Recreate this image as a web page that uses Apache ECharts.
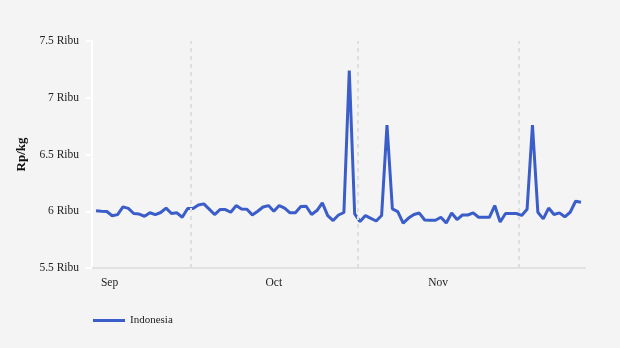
<!DOCTYPE html>
<html>
<head>
<meta charset="utf-8">
<script src="https://cdn.jsdelivr.net/npm/echarts@6/dist/echarts.min.js"></script>
<style>
  html, body { margin: 0; padding: 0; background: #f4f4f4; }
  #chart { width: 620px; height: 348px; }
</style>
</head>
<body>
<div id="chart"></div>
<script>
// Daily price series (Rp/kg), one observation per day starting 13 Sep
const seriesName = 'Indonesia';
const firstDay = [2024, 8, 13];
const prices = [
  6005, 6000, 5998, 5960, 5970, 6039, 6025, 5980, 5975, 5956,
  5987, 5970, 5989, 6028, 5980, 5986, 5947, 6024, 6025, 6055,
  6065, 6019, 5971, 6015, 6015, 5991, 6050, 6019, 6017, 5968,
  6000, 6037, 6050, 6000, 6050, 6028, 5986, 5986, 6041, 6044,
  5971, 6006, 6074, 5962, 5918, 5967, 5989, 7240, 5977, 5909,
  5962, 5938, 5914, 5962, 6760, 6021, 5997, 5896, 5940, 5971,
  5984, 5923, 5921, 5921, 5947, 5896, 5984, 5927, 5967, 5967,
  5986, 5947, 5947, 5947, 6050, 5905, 5980, 5980, 5980, 5963,
  6017, 6760, 5991, 5933, 6028, 5971, 5986, 5951, 5991, 6088,
  6079
];
// Month names shown under the axis, placed at the middle of each month
const monthLabels = ['Sep', 'Oct', 'Nov'];
const monthMiddles = [[2024, 8, 16, 0], [2024, 9, 16, 12], [2024, 10, 16, 0]];
// Month boundaries marked with dashed guides
const monthStarts = [[2024, 9, 1], [2024, 10, 1], [2024, 11, 1]];
const yMin = 5500, yMax = 7500, yStep = 500;

const DAY = 86400000;
const t = (p) => new Date(p[0], p[1], p[2], p[3] || 0).getTime();
const startTime = new Date(firstDay[0], firstDay[1], firstDay[2], 12).getTime();
const points = prices.map((v, i) => {
  const d = new Date(startTime);
  d.setDate(d.getDate() + i);
  return [d.getTime(), v];
});
const xMin = points[0][0] - 0.75 * DAY;
const xMax = points[points.length - 1][0] + 0.75 * DAY;
const labelTimes = monthMiddles.map(t);
const serif = '"Liberation Serif", "DejaVu Serif", serif';

const chart = echarts.init(document.getElementById('chart'));
chart.setOption({
  backgroundColor: '#f4f4f4',
  animation: false,
  grid: { left: 92, right: 35, top: 41, bottom: 80 },
  legend: {
    data: [seriesName],
    left: 93, top: 315, padding: 0,
    icon: 'rect', itemWidth: 32, itemHeight: 3,
    textStyle: { fontFamily: serif, fontSize: 11, color: '#222' }
  },
  xAxis: {
    type: 'value',
    min: xMin, max: xMax,
    axisLine: { show: true, onZero: false, lineStyle: { color: '#e2e2e2', width: 2 } },
    axisTick: { show: false },
    splitLine: { show: false },
    axisLabel: {
      customValues: labelTimes,
      formatter: (v) => {
        let best = 0;
        labelTimes.forEach((lt, i) => { if (Math.abs(lt - v) < Math.abs(labelTimes[best] - v)) best = i; });
        return monthLabels[best];
      },
      fontFamily: serif, fontSize: 11.5, color: '#222', margin: 9
    }
  },
  yAxis: {
    type: 'value',
    min: yMin, max: yMax, interval: yStep,
    name: 'Rp/kg',
    nameLocation: 'middle',
    nameGap: 56,
    nameTextStyle: { fontFamily: serif, fontSize: 13, fontWeight: 'bold', color: '#111' },
    axisLine: { show: true, lineStyle: { color: '#ffffff', width: 2 } },
    axisTick: { show: true, length: 6, lineStyle: { color: '#ffffff', width: 2 } },
    splitLine: { show: false },
    axisLabel: {
      formatter: (v) => (v / 1000) + ' Ribu',
      fontFamily: serif, fontSize: 11.5, color: '#222', margin: 13
    }
  },
  series: [
    {
      name: 'guides',
      type: 'line',
      data: [],
      z: 1,
      markLine: {
        silent: true,
        symbol: ['none', 'none'],
        label: { show: false },
        lineStyle: { color: '#dedede', type: [4, 4], width: 2 },
        data: monthStarts.map((p) => ({ xAxis: t(p) }))
      }
    },
    {
      name: seriesName,
      type: 'line',
      data: points,
      z: 3,
      showSymbol: false,
      smooth: false,
      color: '#3b5dc9',
      lineStyle: { color: '#3b5dc9', width: 3 }
    }
  ]
});
</script>
</body>
</html>
